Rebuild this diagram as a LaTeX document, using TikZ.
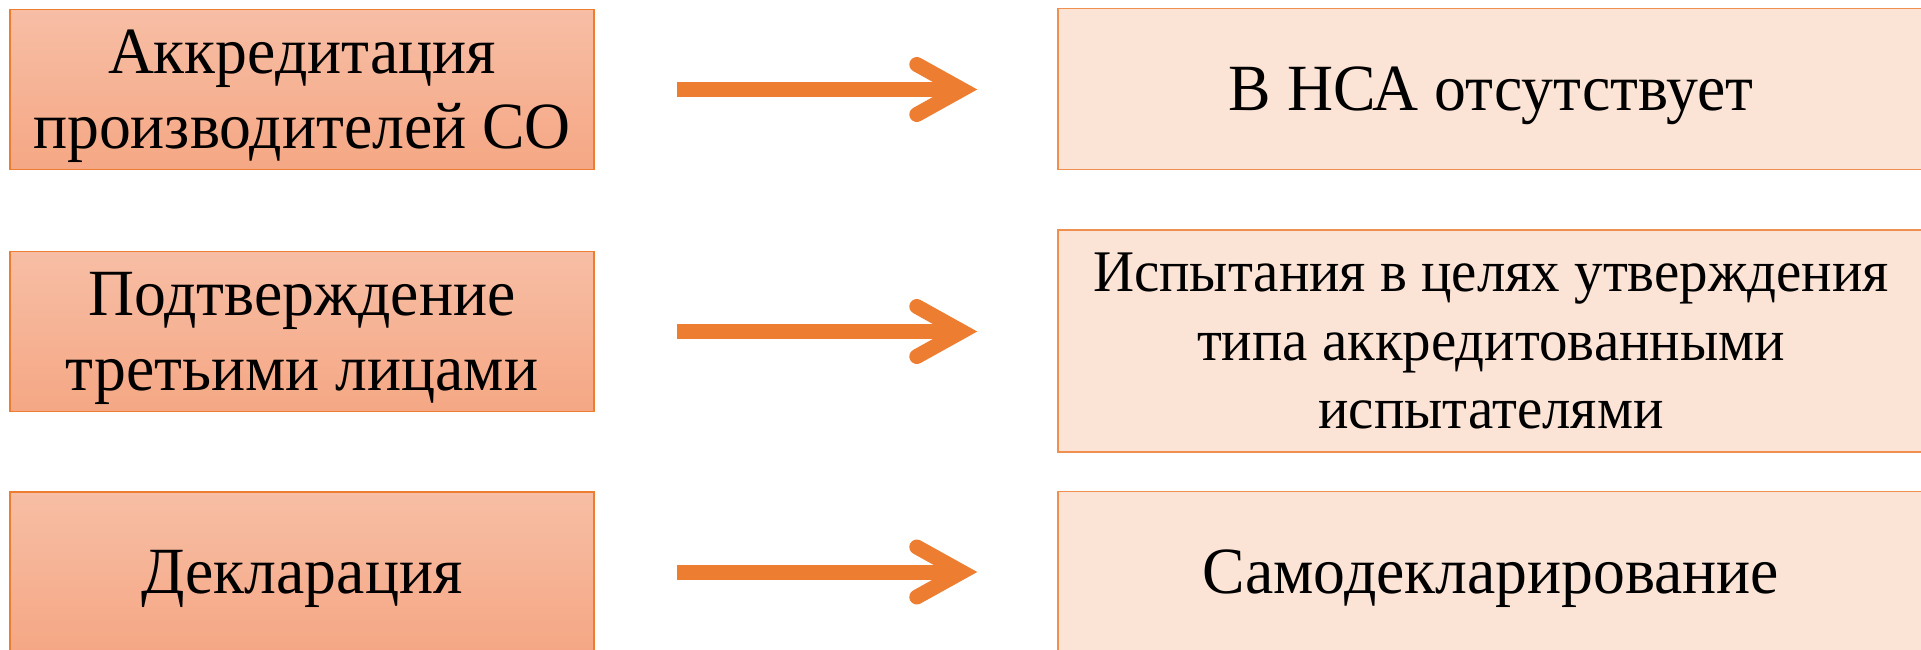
\documentclass[tikz,border=0pt]{standalone}
\usepackage{fontspec}
\setmainfont{Liberation Serif}
\newfontfamily\timesfont[FakeStretch=0.965]{Liberation Serif}
\usetikzlibrary{arrows.meta}
\definecolor{orangeline}{HTML}{ED7D31}
\definecolor{peachtop}{HTML}{F7BEA5}
\definecolor{peachbot}{HTML}{F5A784}
\definecolor{peachlight}{HTML}{FBE4D6}

\begin{document}
\begin{tikzpicture}[
  x=1pt, y=-1pt,
  every node/.style={font=\timesfont\fontsize{66}{75}\selectfont, align=center, inner sep=0pt, text depth=0pt},
  srcbox/.style={draw=orangeline, line width=1.5pt, top color=peachtop, bottom color=peachbot,
    minimum width=584pt, minimum height=160pt},
  resbox/.style={draw=orangeline!85, line width=1.5pt, fill=peachlight,
    minimum width=866pt, minimum height=161pt},
  flow/.style={draw=orangeline, line width=15pt,
    -{Straight Barb[length=45pt, width=50pt, line cap=round, line join=miter]}}
]
  \useasboundingbox (0,0) rectangle (1921,649);
  \clip (0,0) rectangle (1921,649);

  % left column
  \node[srcbox] (acc) at (302,89.5) {Аккредитация\\производителей СО};
  \node[srcbox] (third) at (302,331.5) {Подтверждение\\третьими лицами};
  \node[srcbox] (decl) at (302,572) {Декларация};

  % right column
  \node[resbox] (absent) at (1491,89) {В НСА отсутствует};
  \node[resbox, minimum height=222pt, font=\timesfont\fontsize{59}{68.5}\selectfont] (tests) at (1491,341)
    {Испытания в целях утверждения\\типа аккредитованными\\испытателями};
  \node[resbox] (self) at (1491,572) {Самодекларирование};

  % arrows
  \draw[flow] ([xshift=82pt]acc.east) -- ([xshift=-80pt]acc.east -| absent.west);
  \draw[flow] ([xshift=82pt]third.east) -- ([xshift=-80pt]third.east -| tests.west);
  \draw[flow] ([xshift=82pt]decl.east) -- ([xshift=-80pt]decl.east -| self.west);
\end{tikzpicture}
\end{document}
